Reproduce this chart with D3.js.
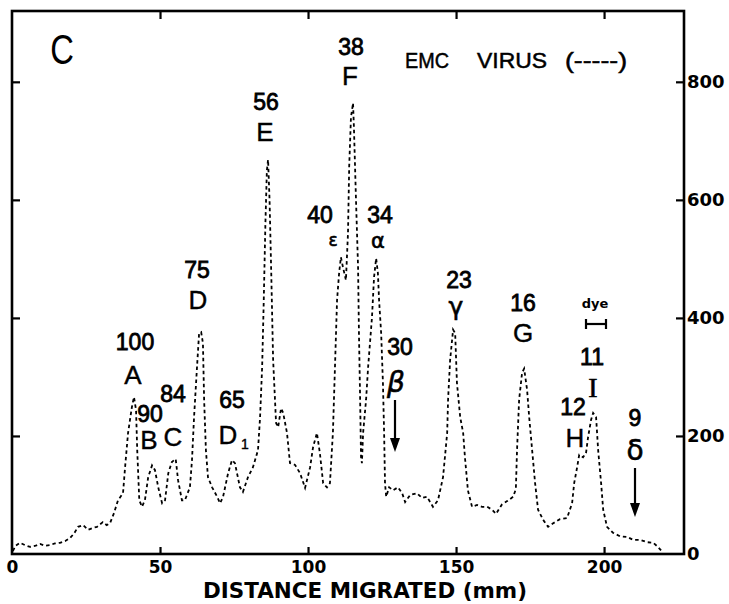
<!DOCTYPE html>
<html>
<head>
<meta charset="utf-8">
<script src="https://cdn.jsdelivr.net/npm/d3@7"></script>
<style>
  html, body { margin: 0; padding: 0; background: #fff; }
  svg { display: block; }
</style>
</head>
<body>
<svg id="chart" width="729" height="604"></svg>
<script>
// ---- Data ----
const distanceMm = [0.3,1.2,2.7,4.4,6.1,8,9.5,11,12.8,14.5,16.2,18,19.6,21,22.3,24,25.7,27.2,28.7,30.7,32,33.1,34.5,35.8,37.5,38.2,39.2,40.5,41.2,41.9,42.3,43,43.9,44.9,46,47.3,48.3,49.4,50.7,51.7,52.8,54,55.3,56.1,57.4,58.4,60.1,60.8,61.5,62.5,63.2,63.9,64.5,64.9,65.5,66.2,67.6,69.3,70.3,71.3,73,74.3,75.3,77,78,79.7,81.4,83.1,83.8,84.5,85,85.6,86.1,86.5,87,87.6,88.2,89.2,89.9,90.9,91.6,92.9,93.9,95.6,97.3,99,100.7,101.7,103,104,105.1,106.4,107.4,108.4,109.1,109.8,110.5,111.1,111.8,112.8,113.5,113.9,114.5,115.2,115.5,116.2,116.9,117.2,117.6,117.9,118.2,118.6,119.6,120.3,121.6,122.3,123,123.6,124,124.7,125.3,125.7,126,126.4,127.4,128.7,130.4,131.8,132.8,134.5,136.8,138.5,140.2,142.2,143.9,145.6,147,147.3,148,149,149.7,150.3,151.4,152.4,153,154,155.4,157.1,158.8,160.5,162.2,163.5,165.5,167.4,169.3,170.2,170.6,171.3,172.3,173,174,174.7,175.7,176.7,177.7,179.4,181.1,182.8,185.1,187.5,189.2,189.9,190.9,191.6,192.9,193.9,194.6,195.6,196.3,197.3,198,199,199.7,201,203,205.4,207.8,209.8,212.2,214.5,216.6,218.2,219.6];
const cpmValues = [5,14,19,15,12,14,17,14,15,18,19,22,27,35,46,49,41,44,46,54,49,52,70,91,103,147,205,249,266,244,176,91,80,91,130,150,142,113,86,91,137,156,161,125,91,91,113,159,232,317,374,376,357,261,176,130,113,97,86,97,137,159,154,113,105,130,147,176,232,317,420,560,650,668,600,470,330,222,215,247,239,205,154,151,137,112,147,181,205,171,120,113,120,205,317,430,476,503,486,464,544,656,740,764,723,600,486,374,261,164,154,205,261,317,401,469,501,476,430,374,290,205,120,97,113,108,113,103,88,100,103,95,97,80,91,130,205,261,329,380,374,290,232,205,164,108,80,83,80,80,75,68,84,90,97,110,176,261,307,314,278,232,176,120,75,58,46,52,59,61,86,120,147,168,164,171,198,227,239,232,176,120,75,46,36,30,29,24,24,20,19,12,4];

const xTickValues = [0, 50, 100, 150, 200];
const yTickValues = [0, 200, 400, 600, 800];
const xDomain = [0, 227];
const yDomain = [0, 920];

// peak annotations: [text, x px center, y px center]
const peakNumbers = [
  ["100", 135, 342], ["90", 150, 414], ["84", 173, 394], ["75", 197, 270],
  ["65", 232, 400], ["56", 266, 102], ["38", 351, 47], ["40", 320, 215],
  ["34", 380, 215], ["30", 400, 347], ["23", 459, 280], ["16", 523, 303],
  ["11", 592, 357], ["12", 573, 407], ["9", 635, 418]
];
const peakLetters = [
  ["A", 133, 375], ["B", 149, 440], ["C", 173, 437], ["D", 198, 300],
  ["D", 228, 435], ["E", 265, 132], ["F", 350, 76], ["G", 523, 333],
  ["H", 575, 438]
];
// [glyph, x, y, size, style]
const greekLetters = [
  ["ε", 333, 240, 17, "normal"], ["α", 378, 240, 21, "normal"], ["β", 396, 382, 28, "italic"],
  ["γ", 456, 306, 25, "normal"], ["δ", 635, 450, 28, "normal"]
];
const legendWords = [["EMC", 405, 44], ["VIRUS", 477, 70], ["(-----)", 565, 62]];

// ---- Drawing ----
const svg = d3.select("#chart");
const mLeft = 12, mRight = 684, mTop = 11, mBottom = 554;

const x = d3.scaleLinear().domain(xDomain).range([mLeft, mRight]);
const y = d3.scaleLinear().domain(yDomain).range([mBottom, mTop]);

const axisFont = "'DejaVu Sans', sans-serif";

const gB = svg.append("g").attr("transform", `translate(0,${mBottom})`)
  .call(d3.axisBottom(x).tickValues(xTickValues).tickSizeInner(-7).tickSizeOuter(0).tickPadding(7));
const gT = svg.append("g").attr("transform", `translate(0,${mTop})`)
  .call(d3.axisTop(x).tickValues(xTickValues.slice(1)).tickSizeInner(-8).tickSizeOuter(0).tickFormat(""));
const gL = svg.append("g").attr("transform", `translate(${mLeft},0)`)
  .call(d3.axisLeft(y).tickValues(yTickValues.slice(1)).tickSizeInner(-8).tickSizeOuter(0).tickFormat(""));
const gR = svg.append("g").attr("transform", `translate(${mRight},0)`)
  .call(d3.axisRight(y).tickValues(yTickValues).tickSizeInner(-8).tickSizeOuter(0).tickPadding(3));

[gB, gT, gL, gR].forEach(g => {
  g.select(".domain").remove();
  g.selectAll(".tick line").attr("stroke", "#000").attr("stroke-width", 2.2);
  g.selectAll(".tick text").attr("fill", "#000")
    .style("font-family", axisFont).style("font-weight", "bold");
});
gB.selectAll(".tick text").style("font-size", "17px");
gB.selectAll(".tick").filter(d => d === 0).select("line").remove();
gR.selectAll(".tick text").style("font-size", "18px");
gR.selectAll(".tick").filter(d => d === 0).select("line").remove();

svg.append("rect")
  .attr("x", mLeft).attr("y", mTop)
  .attr("width", mRight - mLeft).attr("height", mBottom - mTop)
  .attr("fill", "none").attr("stroke", "#000").attr("stroke-width", 2.6);

svg.append("text")
  .attr("x", 365).attr("y", 598)
  .attr("text-anchor", "middle")
  .attr("textLength", 324).attr("lengthAdjust", "spacingAndGlyphs")
  .style("font-family", axisFont).style("font-weight", "bold").style("font-size", "21px")
  .text("DISTANCE MIGRATED (mm)");

const n = Math.min(distanceMm.length, cpmValues.length);
const data = d3.range(n).map(i => ({ mm: distanceMm[i], v: cpmValues[i] }));
const line = d3.line().x(d => x(d.mm)).y(d => y(d.v));
svg.append("path")
  .datum(data)
  .attr("d", line)
  .attr("fill", "none")
  .attr("stroke", "#000")
  .attr("stroke-width", 1.8)
  .attr("stroke-dasharray", "3.5,3");

const labelFont = "'Liberation Sans', Arial, sans-serif";
svg.append("text").attr("text-anchor", "middle")
  .attr("transform", "translate(62,64) scale(0.78,1)")
  .style("font-family", labelFont).style("font-size", "42px").style("font-weight", "normal")
  .text("C");
svg.selectAll("text.legend").data(legendWords).enter().append("text")
  .attr("class", "legend")
  .attr("x", d => d[1]).attr("y", 68)
  .attr("textLength", d => d[2]).attr("lengthAdjust", "spacingAndGlyphs")
  .attr("stroke", "#000").attr("stroke-width", 0.5)
  .style("font-family", labelFont).style("font-size", "22px")
  .text(d => d[0]);

svg.selectAll("text.num").data(peakNumbers).enter().append("text")
  .attr("class", "num")
  .attr("x", d => d[1]).attr("y", d => d[2]).attr("dy", "0.36em")
  .attr("text-anchor", "middle")
  .attr("stroke", "#000").attr("stroke-width", 0.8)
  .style("font-family", labelFont).style("font-size", "23px")
  .text(d => d[0]);

svg.selectAll("text.let").data(peakLetters).enter().append("text")
  .attr("class", "let")
  .attr("x", d => d[1]).attr("y", d => d[2]).attr("dy", "0.36em")
  .attr("text-anchor", "middle")
  .attr("stroke", "#000").attr("stroke-width", 0.4)
  .style("font-family", labelFont).style("font-size", "26px")
  .text(d => d[0]);
svg.append("text").attr("x", 241).attr("y", 449)
  .attr("stroke", "#000").attr("stroke-width", 0.4)
  .style("font-family", labelFont).style("font-size", "14px").text("1");

svg.append("text").attr("x", 593).attr("y", 387).attr("dy", "0.36em")
  .attr("text-anchor", "middle")
  .attr("stroke", "#000").attr("stroke-width", 0.6)
  .style("font-family", "'Liberation Serif', serif").style("font-size", "28px").text("I");

svg.selectAll("text.greek").data(greekLetters).enter().append("text")
  .attr("class", "greek")
  .attr("x", d => d[1]).attr("y", d => d[2]).attr("dy", "0.36em")
  .attr("text-anchor", "middle")
  .attr("stroke", "#000").attr("stroke-width", 0.6)
  .style("font-family", "'DejaVu Sans', sans-serif").style("font-style", d => d[4])
  .style("font-size", d => d[3] + "px")
  .text(d => d[0]);

svg.append("text").attr("x", 595).attr("y", 303).attr("dy", "0.36em")
  .attr("text-anchor", "middle")
  .style("font-family", axisFont).style("font-weight", "bold").style("font-size", "13px")
  .text("dye");
const bar = svg.append("g").attr("stroke", "#000").attr("stroke-width", 2.2);
bar.append("line").attr("x1", 585).attr("x2", 607).attr("y1", 324).attr("y2", 324);
bar.append("line").attr("x1", 586).attr("x2", 586).attr("y1", 319).attr("y2", 329);
bar.append("line").attr("x1", 606).attr("x2", 606).attr("y1", 319).attr("y2", 329);

function arrow(xp, y1, y2) {
  svg.append("line").attr("x1", xp).attr("x2", xp).attr("y1", y1).attr("y2", y2 - 10)
    .attr("stroke", "#000").attr("stroke-width", 2.2);
  svg.append("path")
    .attr("d", `M${xp - 5},${y2 - 14} L${xp + 5},${y2 - 14} L${xp},${y2} Z`)
    .attr("fill", "#000");
}
arrow(395, 400, 452);
arrow(635, 468, 517);
</script>
</body>
</html>
